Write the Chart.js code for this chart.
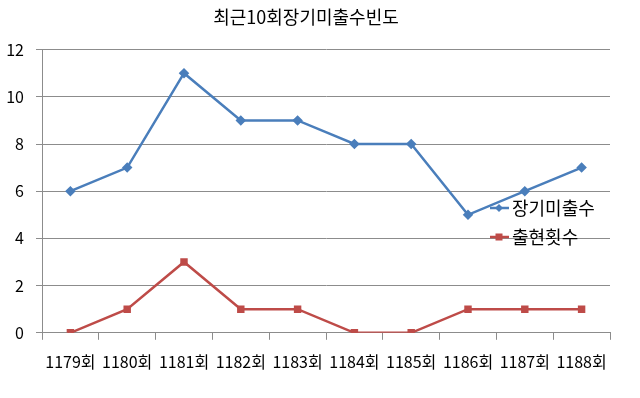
<!DOCTYPE html>
<html><head><meta charset="utf-8">
<script src="https://cdn.jsdelivr.net/npm/chart.js@4/dist/chart.umd.min.js"></script>
<style>html,body{margin:0;padding:0;background:#fff}canvas{display:block}</style>
</head><body>
<canvas id="c" width="640" height="398"></canvas>
<script>
const title = '최근10회장기미출수빈도';
const categories = ['1179회','1180회','1181회','1182회','1183회','1184회','1185회','1186회','1187회','1188회'];
const seriesNames = ['장기미출수','출현횟수'];
const missCounts = [6,7,11,9,9,8,8,5,6,7];
const appearCounts = [0,1,3,1,1,0,0,1,1,1];
const yTicks = [0,2,4,6,8,10,12];

const FONT = '"Noto Sans CJK KR", "Noto Sans", sans-serif';
const gridColor = '#8c8c8c';

const insideLegend = {
  id: 'insideLegend',
  afterDatasetsDraw(chart) {
    const ctx = chart.ctx;
    const items = [{y: 208}, {y: 237}];
    ctx.save();
    chart.data.datasets.forEach((ds, i) => {
      const y = items[i].y;
      ctx.strokeStyle = ds.borderColor;
      ctx.lineWidth = ds.borderWidth;
      ctx.beginPath(); ctx.moveTo(490, y); ctx.lineTo(509, y); ctx.stroke();
      ctx.fillStyle = ds.backgroundColor;
      if (ds.pointStyle === 'rect') {
        ctx.fillRect(499 - 3.5, y - 3.5, 7, 7);
      } else {
        ctx.beginPath(); ctx.moveTo(499, y - 4); ctx.lineTo(503, y); ctx.lineTo(499, y + 4); ctx.lineTo(495, y); ctx.closePath(); ctx.fill();
      }
      ctx.fillStyle = '#000';
      ctx.font = '18px ' + FONT;
      ctx.textBaseline = 'middle';
      ctx.textAlign = 'left';
      ctx.fillText(ds.label, 512, y);
    });
    ctx.restore();
  }
};

new Chart(document.getElementById('c'), {
  type: 'line',
  data: {
    labels: categories,
    datasets: [
      { label: seriesNames[0], data: missCounts, borderColor: '#4a7ebb', backgroundColor: '#4a7ebb',
        borderWidth: 2.5, pointStyle: 'rectRot', pointRadius: 3.5, pointHoverRadius: 3.5, tension: 0 },
      { label: seriesNames[1], data: appearCounts, borderColor: '#be4b48', backgroundColor: '#be4b48',
        borderWidth: 2.5, pointStyle: 'rect', pointRadius: 3.5, pointHoverRadius: 3.5, tension: 0 }
    ]
  },
  options: {
    responsive: false,
    animation: false,
    devicePixelRatio: 1,
    layout: { padding: { left: 2, right: 30, top: 0, bottom: 13 } },
    plugins: {
      legend: { display: false },
      tooltip: { enabled: false },
      title: { display: true, text: title, color: '#000', font: { family: FONT, size: 18, weight: 'normal' }, padding: { top: 6, bottom: 22 } }
    },
    scales: {
      x: {
        offset: true,
        grid: { offset: true, drawOnChartArea: false, drawTicks: true, tickLength: 7, color: gridColor },
        border: { color: gridColor, width: 1 },
        ticks: { color: '#000', font: { family: FONT, size: 16 }, padding: 13, maxRotation: 0, autoSkip: false }
      },
      y: {
        min: 0, max: 12,
        afterBuildTicks(axis) { axis.ticks = yTicks.map(v => ({ value: v })); },
        afterFit(axis) { axis.width = 40; },
        grid: { color: gridColor, tickLength: 6, drawTicks: true },
        border: { color: gridColor, width: 1 },
        ticks: { color: '#000', font: { family: FONT, size: 16 }, padding: 12 }
      }
    }
  },
  plugins: [insideLegend]
});
</script>
</body></html>
